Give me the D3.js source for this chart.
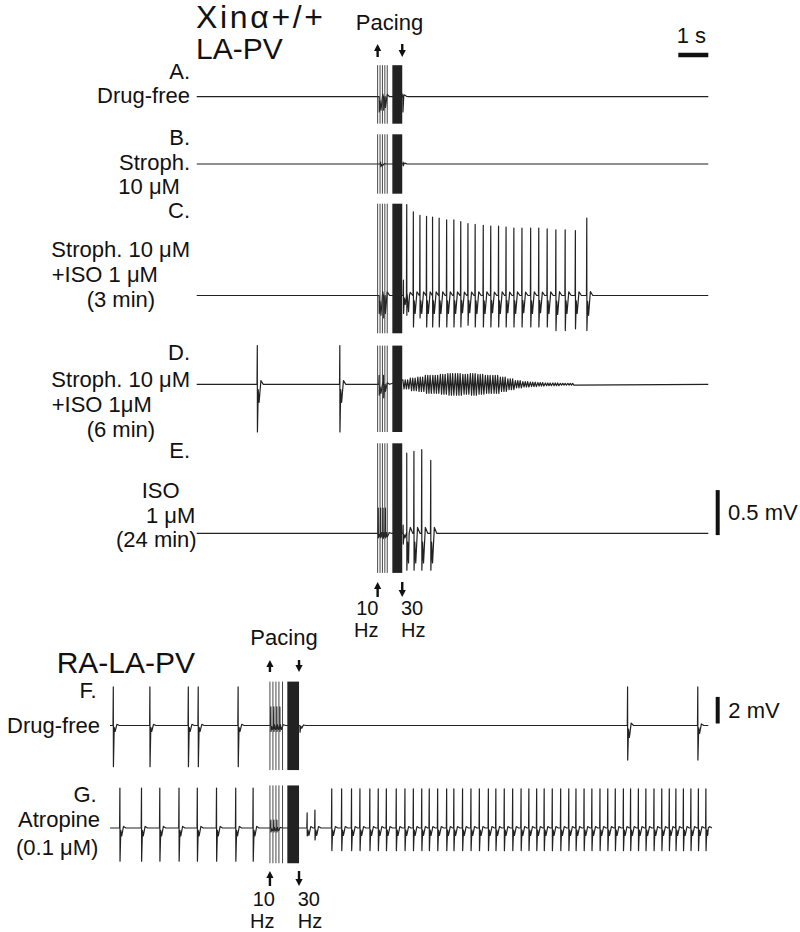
<!DOCTYPE html>
<html>
<head>
<meta charset="utf-8">
<script src="https://cdn.jsdelivr.net/npm/d3@7"></script>
<style>
  body { margin: 0; background: #fff; }
  svg text { font-family: "Liberation Sans", Arial, sans-serif; fill: #111; }
</style>
</head>
<body>
<div class="figure"></div>
<script>
// ---- DATA (seconds from first 10 Hz stimulus, amplitudes in mV) ----

// recording windows
const WINDOW_TOP = [-6.03, 11.02];
const WINDOW_BOTTOM = [-5.33, 14.61];

// pacing protocol
const TEN_HZ_TOP = [0, 0.08, 0.16, 0.24, 0.32];
const BURST_TOP = [0.49, 0.82];
const TEN_HZ_BOTTOM = [0, 0.1, 0.2, 0.3, 0.42];
const BURST_BOTTOM = [0.58, 0.97];

// stimulus artifact extent [up, down]
const ARTIFACT_A = [0.35, -0.30];
const ARTIFACT_B = [0.33, -0.33];
const ARTIFACT_C = [1.02, -0.42];
const ARTIFACT_D = [0.43, -0.53];
const ARTIFACT_E = [1.00, -0.44];
const ARTIFACT_F = [3.3, -3.35];
const ARTIFACT_G = [3.2, -2.65];

// beats: [time, spike up, spike down, after-dip]
const A_BEATS = [[0.05, 0, -0.17, -0.15], [0.2, 0, -0.15, -0.12], [0.84, 0.03, -0.17, 0.02]];
const B_BEATS = [[0.1, 0.02, -0.03, -0.02], [0.85, 0.02, -0.02, 0.01]];
const C_BEATS = [
  [0.05, 0, -0.2, -0.22], [0.2, 0, -0.25, -0.2], [0.86, 0.17, -0.2, -0.1],
  [0.97, 1.01, -0.22, -0.18], [1.19, 0.93, -0.35, -0.2], [1.41, 0.89, -0.25, -0.2],
  [1.63, 0.88, -0.35, -0.2], [1.83, 0.87, -0.35, -0.2], [2.05, 0.86, -0.35, -0.2],
  [2.30, 0.84, -0.35, -0.2], [2.54, 0.84, -0.35, -0.2], [2.77, 0.82, -0.35, -0.19],
  [3.01, 0.80, -0.33, -0.19], [3.25, 0.79, -0.35, -0.2], [3.52, 0.78, -0.35, -0.2],
  [3.77, 0.77, -0.35, -0.19], [4.03, 0.77, -0.35, -0.2], [4.28, 0.76, -0.35, -0.19],
  [4.54, 0.75, -0.35, -0.2], [4.81, 0.75, -0.35, -0.19], [5.10, 0.75, -0.35, -0.2],
  [5.37, 0.75, -0.35, -0.19], [5.65, 0.74, -0.35, -0.2], [5.94, 0.73, -0.39, -0.21],
  [6.25, 0.73, -0.39, -0.2], [6.59, 0.72, -0.37, -0.2], [6.97, 0.86, -0.39, -0.22]
];
const D_BEATS = [[-4.01, 0.43, -0.53, -0.2], [-1.26, 0.43, -0.53, -0.2], [0.05, 0.1, -0.12, -0.1], [0.2, 0.1, -0.15, -0.08]];
const E_BEATS = [
  [0.02, 0.28, -0.05, -0.04], [0.1, 0.28, -0.05, -0.04], [0.18, 0.28, -0.06, -0.04], [0.26, 0.28, -0.05, -0.04],
  [0.85, 0.09, -0.12, -0.05],
  [0.97, 0.89, -0.41, -0.33], [1.21, 0.91, -0.41, -0.33], [1.47, 0.93, -0.41, -0.33], [1.77, 0.81, -0.41, -0.33]
];
// D: post-pacing fibrillatory activity, envelope per 0.25 s chunk
const D_OSC_START = 0.84;
const D_OSC_AMP = [0.05, 0.07, 0.08, 0.1, 0.1, 0.11, 0.12, 0.12, 0.11, 0.12, 0.11, 0.1,
                   0.1, 0.08, 0.06, 0.04, 0.03, 0.025, 0.02, 0.015, 0.015, 0.01, 0.01];

const F_BEATS = [
  [-5.22, 2.9, -3.1, -0.45], [-4.0, 2.9, -3.1, -0.45], [-2.72, 2.9, -3.1, -0.45],
  [-2.39, 2.9, -3.1, -0.45], [-1.06, 2.9, -3.1, -0.45],
  [0.03, 1.4, -0.45, -0.3], [0.13, 1.4, -0.45, -0.3], [0.23, 1.4, -0.45, -0.3], [0.33, 1.4, -0.45, -0.3],
  [1.0, 0.0, -0.5, -0.2],
  [11.92, 2.9, -2.6, -0.9], [14.26, 2.9, -2.6, -0.6]
];
const G_PRE_T = [-5.0, -4.28, -3.67, -3.03, -2.42, -1.78, -1.14, -0.56];
const G_POST_T = [1.24, 1.5, 2.06, 2.39, 2.72, 3.0, 3.33, 3.61, 3.88, 4.21, 4.5, 4.78,
  5.06, 5.31, 5.59, 5.89, 6.13, 6.42, 6.7, 6.98, 7.28, 7.53, 7.81, 8.09, 8.37, 8.63,
  8.89, 9.14, 9.41, 9.69, 9.96, 10.2, 10.47, 10.73, 11.0, 11.26, 11.51, 11.78, 12.02,
  12.28, 12.53, 12.8, 13.06, 13.31, 13.53, 13.78, 14.03, 14.28, 14.53];
const G_POST_UP = [1.13, 1.35];     // first two responses are small, rest 2.95
const G_POST_DOWN = [-0.6, -0.9];   // rest -1.7

// ---- LAYOUT ----
const WIDTH = 800, HEIGHT = 932;
const TOP_PX_PER_MV = 90, BOTTOM_PX_PER_MV = 13.3;

const svg = d3.select(".figure").append("svg")
  .attr("width", WIDTH).attr("height", HEIGHT)
  .style("background", "#fff");

const X_TOP = d3.scaleLinear().domain(WINDOW_TOP).range([196.7, 708.3]);
const X_BOTTOM = d3.scaleLinear().domain(WINDOW_BOTTOM).range([110, 708.3]);

// build G beats from its arrays
const G_BEATS = G_PRE_T.map(t => [t, 3.0, -2.5, -0.6])
  .concat(G_POST_T.map((t, i) => [t, i < G_POST_UP.length ? G_POST_UP[i] : 2.95,
                                       i < G_POST_DOWN.length ? G_POST_DOWN[i] : -1.7, -0.55]))
  .concat([[0.03, 0.6, -0.3, -0.2], [0.13, 0.6, -0.3, -0.2], [0.23, 0.6, -0.3, -0.2]]);

const TRACES = [
  {base: 96.7, x: X_TOP, k: TOP_PX_PER_MV, art: ARTIFACT_A, beats: A_BEATS, pace: TEN_HZ_TOP, burst: BURST_TOP},
  {base: 164, x: X_TOP, k: TOP_PX_PER_MV, art: ARTIFACT_B, beats: B_BEATS, pace: TEN_HZ_TOP, burst: BURST_TOP},
  {base: 295.5, x: X_TOP, k: TOP_PX_PER_MV, art: ARTIFACT_C, beats: C_BEATS, pace: TEN_HZ_TOP, burst: BURST_TOP},
  {base: 384.3, x: X_TOP, k: TOP_PX_PER_MV, art: ARTIFACT_D, beats: D_BEATS, pace: TEN_HZ_TOP, burst: BURST_TOP, osc: true},
  {base: 533.3, x: X_TOP, k: TOP_PX_PER_MV, art: ARTIFACT_E, beats: E_BEATS, pace: TEN_HZ_TOP, burst: BURST_TOP},
  {base: 725.5, x: X_BOTTOM, k: BOTTOM_PX_PER_MV, art: ARTIFACT_F, beats: F_BEATS, pace: TEN_HZ_BOTTOM, burst: BURST_BOTTOM},
  {base: 828, x: X_BOTTOM, k: BOTTOM_PX_PER_MV, art: ARTIFACT_G, beats: G_BEATS, pace: TEN_HZ_BOTTOM, burst: BURST_BOTTOM}
];

// waveform of one beat around its time
function beatPoints(b) {
  const [t, up, down, dip] = b;
  return [[t - 0.01, 0], [t, up], [t + 0.004, down], [t + 0.03, dip * 0.3],
          [t + 0.06, dip], [t + 0.12, Math.abs(dip) * 0.2], [t + 0.2, 0]];
}

function oscPoints() {
  const pts = [];
  const step = 0.04;
  D_OSC_AMP.forEach((a, i) => {
    const t0 = D_OSC_START + i * 0.25;
    for (let j = 0; j < 0.25 / step - 0.5; j++) {
      pts.push([t0 + j * step, (j % 2 === 0 ? a : -a)]);
    }
  });
  return pts;
}

TRACES.forEach(tr => {
  const y = d3.scaleLinear().domain([0, 1]).range([tr.base, tr.base - tr.k]);
  const dom = tr.x.domain();

  let pts = [[dom[0], 0], [dom[1], 0]];
  tr.beats.forEach(b => { pts = pts.concat(beatPoints(b)); });
  if (tr.osc) pts = pts.concat(oscPoints());
  pts.sort((a, b) => a[0] - b[0]);

  const line = d3.line().x(d => tr.x(d[0])).y(d => y(d[1]));

  svg.append("path")
    .attr("d", line(pts))
    .attr("fill", "none")
    .attr("stroke", "#222")
    .attr("stroke-width", 1.2)
    .attr("stroke-linejoin", "round");

  // 10 Hz stimulus artifacts
  svg.selectAll(null)
    .data(tr.pace)
    .enter()
    .append("line")
      .attr("x1", d => tr.x(d)).attr("x2", d => tr.x(d))
      .attr("y1", y(tr.art[0])).attr("y2", y(tr.art[1]))
      .attr("stroke", "#333")
      .attr("stroke-width", 0.9);

  // 30 Hz burst: artifacts merge into a solid block
  svg.append("rect")
    .attr("x", tr.x(tr.burst[0]))
    .attr("width", tr.x(tr.burst[1]) - tr.x(tr.burst[0]))
    .attr("y", y(tr.art[0]))
    .attr("height", y(tr.art[1]) - y(tr.art[0]))
    .attr("fill", "#222");
});

// ---- arrows ----
function arrow(x, y1, y2, dir) {
  const head = 7, hw = 3.6, sw = 2.4;
  const g = svg.append("g").attr("fill", "#111");
  if (dir === "up") {
    g.append("path").attr("d", `M${x},${y1} L${x - hw},${y1 + head} L${x + hw},${y1 + head} Z`);
    g.append("rect").attr("x", x - sw / 2).attr("y", y1 + head - 1).attr("width", sw).attr("height", y2 - y1 - head + 1);
  } else {
    g.append("path").attr("d", `M${x},${y2} L${x - hw},${y2 - head} L${x + hw},${y2 - head} Z`);
    g.append("rect").attr("x", x - sw / 2).attr("y", y1).attr("width", sw).attr("height", y2 - y1 - head + 1);
  }
}
arrow(X_TOP(TEN_HZ_TOP[0]), 44, 57, "up");
arrow(X_TOP(BURST_TOP[1]), 44, 57, "down");
arrow(X_TOP(TEN_HZ_TOP[0]), 582, 597, "up");
arrow(X_TOP(BURST_TOP[1]), 582, 597, "down");
arrow(X_BOTTOM(TEN_HZ_BOTTOM[0]), 660, 672, "up");
arrow(X_BOTTOM(BURST_BOTTOM[1]), 660, 672, "down");
arrow(X_BOTTOM(TEN_HZ_BOTTOM[0]), 871, 886, "up");
arrow(X_BOTTOM(BURST_BOTTOM[1]), 871, 886, "down");

// ---- scale bars ----
svg.append("line")
  .attr("x1", X_TOP(WINDOW_TOP[1] - 1)).attr("x2", X_TOP(WINDOW_TOP[1]))
  .attr("y1", 55).attr("y2", 55)
  .attr("stroke", "#111").attr("stroke-width", 4.5);
svg.append("line")
  .attr("x1", 717.7).attr("x2", 717.7)
  .attr("y1", 533.3 - (-0.02) * TOP_PX_PER_MV).attr("y2", 533.3 - 0.48 * TOP_PX_PER_MV)
  .attr("stroke", "#111").attr("stroke-width", 4);
svg.append("line")
  .attr("x1", 717.7).attr("x2", 717.7)
  .attr("y1", 725.5 - 0.15 * BOTTOM_PX_PER_MV).attr("y2", 725.5 - 2.15 * BOTTOM_PX_PER_MV)
  .attr("stroke", "#111").attr("stroke-width", 4);

// ---- text: each block is one text element, one tspan per line ----
// [text, x, y, anchor]
const LABEL_BLOCKS = [
  [["Pacing", 389.5, 30.4, "middle"]],
  [["1 s", 676.7, 42.7, "start"]],
  [["A.", 190, 79.3, "end"], ["Drug-free", 190, 103.3, "end"]],
  [["B.", 190, 145, "end"], ["Stroph.", 190, 169.5, "end"], ["10 μM", 118.3, 193.8, "start"]],
  [["C.", 190, 218.3, "end"], ["Stroph. 10 μM", 190, 257.3, "end"], ["+ISO 1 μM", 51.7, 281.7, "start"],
   ["(3 min)", 86.7, 306.5, "start"]],
  [["D.", 190, 360, "end"], ["Stroph. 10 μM", 190, 386.7, "end"], ["+ISO 1μM", 51.7, 411.7, "start"],
   ["(6 min)", 86.7, 436.5, "start"]],
  [["E.", 190, 458.3, "end"], ["ISO", 141.7, 498.3, "start"], ["1 μM", 146, 522.8, "start"],
   ["(24 min)", 116, 547.3, "start"]],
  [["0.5 mV", 728, 520, "start"]],
  [["Pacing", 284, 645, "middle"]],
  [["F.", 96.7, 698.3, "end"], ["Drug-free", 100, 733.3, "end"]],
  [["2 mV", 728.3, 718, "start"]],
  [["G.", 96.7, 801.7, "end"], ["Atropine", 100, 826.7, "end"], ["(0.1 μM)", 16, 855, "start"]]
];
// stacked frequency labels under the arrows, set a little smaller
const HZ_BLOCKS = [
  [["10", 378.5, 614.5, "end"], ["Hz", 378.5, 637, "end"]],
  [["30", 401, 614.5, "start"], ["Hz", 401, 637, "start"]],
  [["10", 275, 905.5, "end"], ["Hz", 274.5, 928, "end"]],
  [["30", 297.7, 905.5, "start"], ["Hz", 297.7, 928, "start"]]
];

function drawBlocks(data, size) {
  const blocks = svg.selectAll(null)
    .data(data)
    .enter()
    .append("text")
      .attr("font-size", size + "px");

  blocks.selectAll("tspan")
    .data(d => d)
    .enter()
    .append("tspan")
      .attr("x", d => d[1])
      .attr("y", d => d[2])
      .attr("text-anchor", d => d[3])
      .text(d => d[0]);
}
drawBlocks(LABEL_BLOCKS, 22);
drawBlocks(HZ_BLOCKS, 20);

// panel titles
svg.append("text")
  .attr("x", 196).attr("y", 28)
  .attr("font-size", "32px")
  .attr("textLength", 127).attr("lengthAdjust", "spacing")
  .text("Xinα+/+");
svg.append("text")
  .attr("x", 196).attr("y", 59)
  .attr("font-size", "30px")
  .text("LA-PV");
svg.append("text")
  .attr("x", 56.7).attr("y", 673.3)
  .attr("font-size", "30px")
  .text("RA-LA-PV");
</script>
</body>
</html>
